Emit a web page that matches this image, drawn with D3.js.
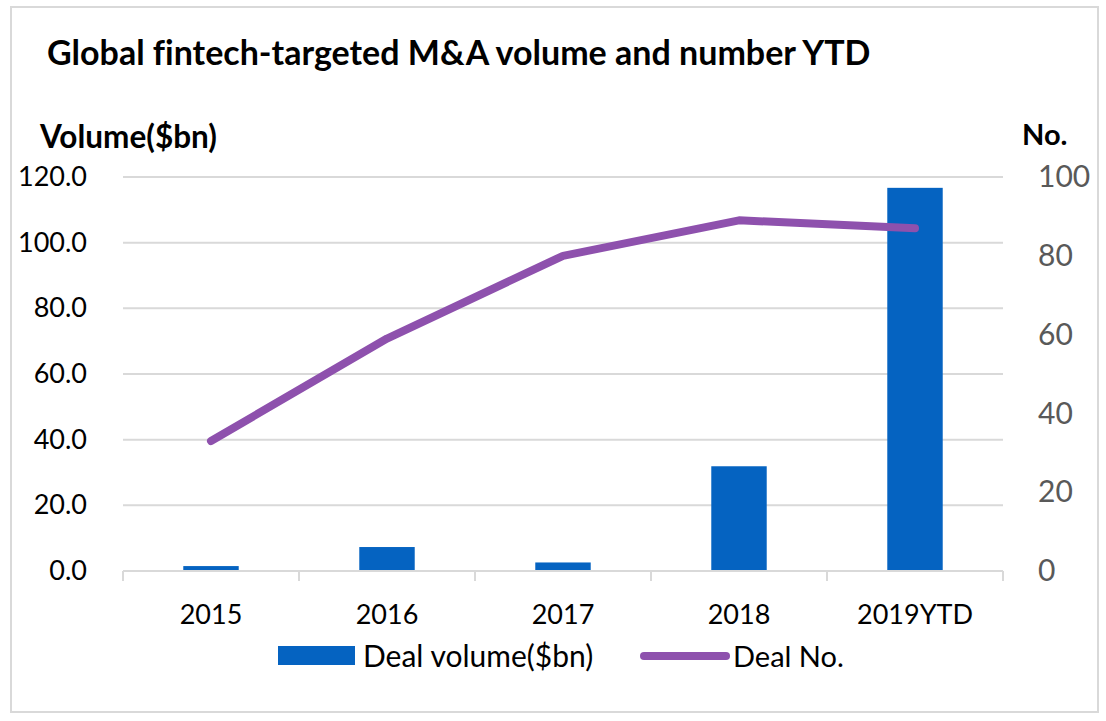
<!DOCTYPE html>
<html>
<head>
<meta charset="utf-8">
<script src="https://cdn.jsdelivr.net/npm/d3@7"></script>
<style>
  html, body { margin: 0; padding: 0; background: #fff; }
  svg { display: block; font-family: Lato, "Noto Sans", sans-serif; font-variant-ligatures: none; font-feature-settings: "liga" 0; }
</style>
</head>
<body>
<svg id="chart" width="1106" height="721"></svg>
<script>
// ---- data ----
const categories = ["2015", "2016", "2017", "2018", "2019YTD"];
const dealVolume = [1.5, 7.3, 2.6, 31.9, 116.7];   // $bn (left axis)
const dealNumber = [33, 59, 80, 89, 87];            // No. (right axis)
const leftTicks = [0, 20, 40, 60, 80, 100, 120];
const rightTicks = [0, 20, 40, 60, 80, 100];
const titleText = "Global fintech-targeted M&A volume and number YTD";
const leftAxisTitle = "Volume($bn)";
const rightAxisTitle = "No.";
const legendLabels = ["Deal volume($bn)", "Deal No."];

// ---- style ----
const barColor = "#0563c1";
const lineColor = "#8e51ad";
const gridColor = "#d9d9d9";

const svg = d3.select("#chart");

// outer frame
svg.append("rect")
  .attr("x", 11).attr("y", 7).attr("width", 1087).attr("height", 705)
  .attr("fill", "none").attr("stroke", gridColor).attr("stroke-width", 2);

const plot = { left: 123, right: 1003, top: 177, bottom: 571 };

const x = d3.scaleBand().domain(categories).range([plot.left, plot.right]).paddingInner(0).paddingOuter(0);
const yL = d3.scaleLinear().domain([0, 120]).range([plot.bottom, plot.top]);
const yR = d3.scaleLinear().domain([0, 100]).range([plot.bottom, plot.top]);

// title
svg.append("text").attr("x", 47).attr("y", 65)
  .attr("font-size", 34).attr("font-weight", 700).attr("fill", "#000")
  .text(titleText);

// axis titles
svg.append("text").attr("x", 40).attr("y", 148)
  .attr("font-size", 31.5).attr("font-weight", 700).attr("fill", "#000")
  .text(leftAxisTitle);
svg.append("text").attr("x", 1022).attr("y", 145)
  .attr("font-size", 29).attr("font-weight", 700).attr("fill", "#000")
  .text(rightAxisTitle);

// gridlines (left axis)
svg.append("g").selectAll("line").data(leftTicks.filter(d => d > 0)).join("line")
  .attr("x1", plot.left).attr("x2", plot.right)
  .attr("y1", d => yL(d)).attr("y2", d => yL(d))
  .attr("stroke", gridColor).attr("stroke-width", 2);

// left axis labels
const leftAxis = d3.axisLeft(yL).tickValues(leftTicks).tickFormat(d3.format(".1f")).tickSize(0).tickPadding(0);
const gL = svg.append("g").attr("transform", "translate(87,0)").call(leftAxis);
gL.select(".domain").remove();
gL.selectAll("text").attr("font-size", 27).attr("fill", "#000")
  .attr("font-family", "Lato, 'Noto Sans', sans-serif");

// right axis labels
const rightAxis = d3.axisRight(yR).tickValues(rightTicks).tickFormat(d3.format("d")).tickSize(0).tickPadding(0);
const gR = svg.append("g").attr("transform", "translate(1038,0)").call(rightAxis);
gR.select(".domain").remove();
gR.selectAll("text").attr("font-size", 30).attr("fill", "#595959")
  .attr("font-family", "Lato, 'Noto Sans', sans-serif");

// bars
const barW = x.bandwidth() * 0.315;
svg.append("g").selectAll("rect").data(categories).join("rect")
  .attr("x", (d) => x(d) + x.bandwidth() / 2 - barW / 2)
  .attr("width", barW)
  .attr("y", (d, i) => yL(dealVolume[i]))
  .attr("height", (d, i) => yL(0) - yL(dealVolume[i]))
  .attr("fill", barColor);

// bottom axis (category)
const xAxis = d3.axisBottom(x).tickSize(0).tickPadding(0);
const gX = svg.append("g").attr("transform", `translate(0,${plot.bottom})`).call(xAxis);
gX.select(".domain").remove();
gX.selectAll("text").attr("font-size", 27).attr("fill", "#000")
  .attr("dy", null).attr("y", 53)
  .attr("font-family", "Lato, 'Noto Sans', sans-serif");
svg.append("line").attr("x1", plot.left).attr("x2", plot.right)
  .attr("y1", plot.bottom).attr("y2", plot.bottom)
  .attr("stroke", gridColor).attr("stroke-width", 2);
const bounds = categories.map(c => x(c)).concat([plot.right]);
svg.append("g").selectAll("line").data(bounds).join("line")
  .attr("x1", d => d).attr("x2", d => d)
  .attr("y1", plot.bottom).attr("y2", plot.bottom + 10)
  .attr("stroke", gridColor).attr("stroke-width", 2);

// line
const line = d3.line()
  .x((d, i) => x(categories[i]) + x.bandwidth() / 2)
  .y(d => yR(d));
svg.append("path").datum(dealNumber)
  .attr("d", line)
  .attr("fill", "none").attr("stroke", lineColor).attr("stroke-width", 8)
  .attr("stroke-linecap", "round").attr("stroke-linejoin", "round");

// legend
const lg = svg.append("g");
lg.append("rect").attr("x", 278).attr("y", 646).attr("width", 77).attr("height", 19).attr("fill", barColor);
lg.append("text").attr("x", 363).attr("y", 667).attr("font-size", 30).attr("fill", "#000").text(legendLabels[0]);
lg.append("line").attr("x1", 644).attr("x2", 726).attr("y1", 656).attr("y2", 656)
  .attr("stroke", lineColor).attr("stroke-width", 8).attr("stroke-linecap", "round");
lg.append("text").attr("x", 733).attr("y", 667).attr("font-size", 29).attr("fill", "#000").text(legendLabels[1]);
</script>
</body>
</html>
